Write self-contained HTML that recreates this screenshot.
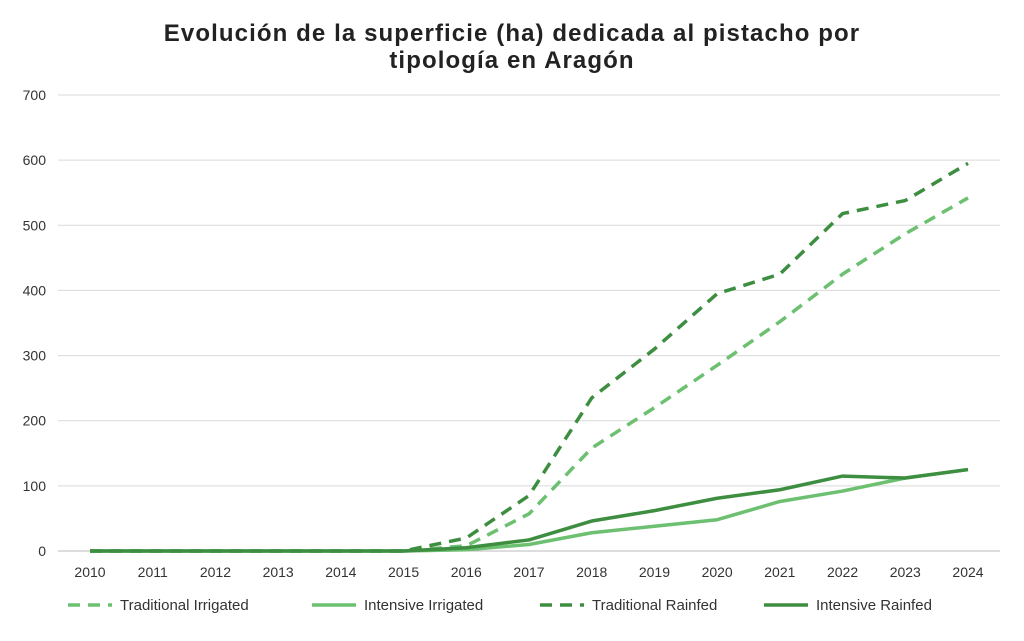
<!DOCTYPE html>
<html><head><meta charset="utf-8"><style>
body{margin:0;background:#fff;font-family:"Liberation Sans",sans-serif}
</style></head><body>
<svg id="c" width="1024" height="636" xmlns="http://www.w3.org/2000/svg">
<rect width="1024" height="636" fill="#fff"/>
<text x="512" y="41" text-anchor="middle" font-size="24" letter-spacing="1.1" font-weight="bold" fill="#222">Evolución de la superficie (ha) dedicada al pistacho por</text>
<text x="512" y="68" text-anchor="middle" font-size="24" letter-spacing="1.1" font-weight="bold" fill="#222">tipología en Aragón</text>
<g id="grid"></g><g id="series"></g><g id="legend"></g>
</svg>
<script>
const years=[2010,2011,2012,2013,2014,2015,2016,2017,2018,2019,2020,2021,2022,2023,2024];
const yTicks=[0,100,200,300,400,500,600,700];
const tradIrrigated=[0,0,0,0,0,0,8,57,158,220,285,352,425,487,542];
const intIrrigated=[0,0,0,0,0,0,2,10,28,38,48,76,92,112,125];
const tradRainfed=[0,0,0,0,0,0,20,85,235,310,395,425,518,538,595];
const intRainfed=[0,0,0,0,0,0,5,17,46,62,81,94,115,112,125];
const seriesNames=["Traditional Irrigated","Intensive Irrigated","Traditional Rainfed","Intensive Rainfed"];
const NS="http://www.w3.org/2000/svg";
const x=i=>90+i*(968-90)/(years.length-1);
const y=v=>551-v*(551-95)/700;
const grid=document.getElementById('grid'),ser=document.getElementById('series'),leg=document.getElementById('legend');
function mk(tag,a,p){const e=document.createElementNS(NS,tag);for(const k in a)e.setAttribute(k,a[k]);p.appendChild(e);return e;}
yTicks.forEach(t=>{
 const l=mk('line',{x1:58,x2:1000,y1:y(t),y2:y(t),stroke:t===0?'#bbb':'#d9d9d9','stroke-width':1},grid);
 
 
 const tx=mk('text',{x:46,y:y(t)+5,'text-anchor':'end','font-size':14,fill:'#333'},grid);tx.textContent=t;
 
 
});
years.forEach((yr,i)=>{
 const tx=mk('text',{x:x(i),y:577,'text-anchor':'middle','font-size':14,fill:'#333'},grid);tx.textContent=yr;
 
 
});
const light='#6cc070',dark='#3e8e41';
const defs=[[tradIrrigated,light,'12,8'],[intIrrigated,light,''],[tradRainfed,dark,'12,8'],[intRainfed,dark,'']];
defs.forEach((d,k)=>{
 const pts=d[0].map((v,i)=>x(i)+','+y(v)).join(' ');
 const p=mk('polyline',{points:pts,fill:'none',stroke:d[1],'stroke-width':3.5,'stroke-dasharray':d[2],'stroke-linejoin':'round'},ser);
 
 
});
const lx=[68,312,540,764];
defs.forEach((d,k)=>{
 const g=mk('g',{},leg);
 
 
 mk('line',{x1:lx[k],x2:lx[k]+44,y1:605,y2:605,stroke:d[1],'stroke-width':3.5,'stroke-dasharray':d[2]},g);
 const t=mk('text',{x:lx[k]+52,y:610,'font-size':15,fill:'#333'},g);t.textContent=seriesNames[k];
});
</script>
</body></html>
